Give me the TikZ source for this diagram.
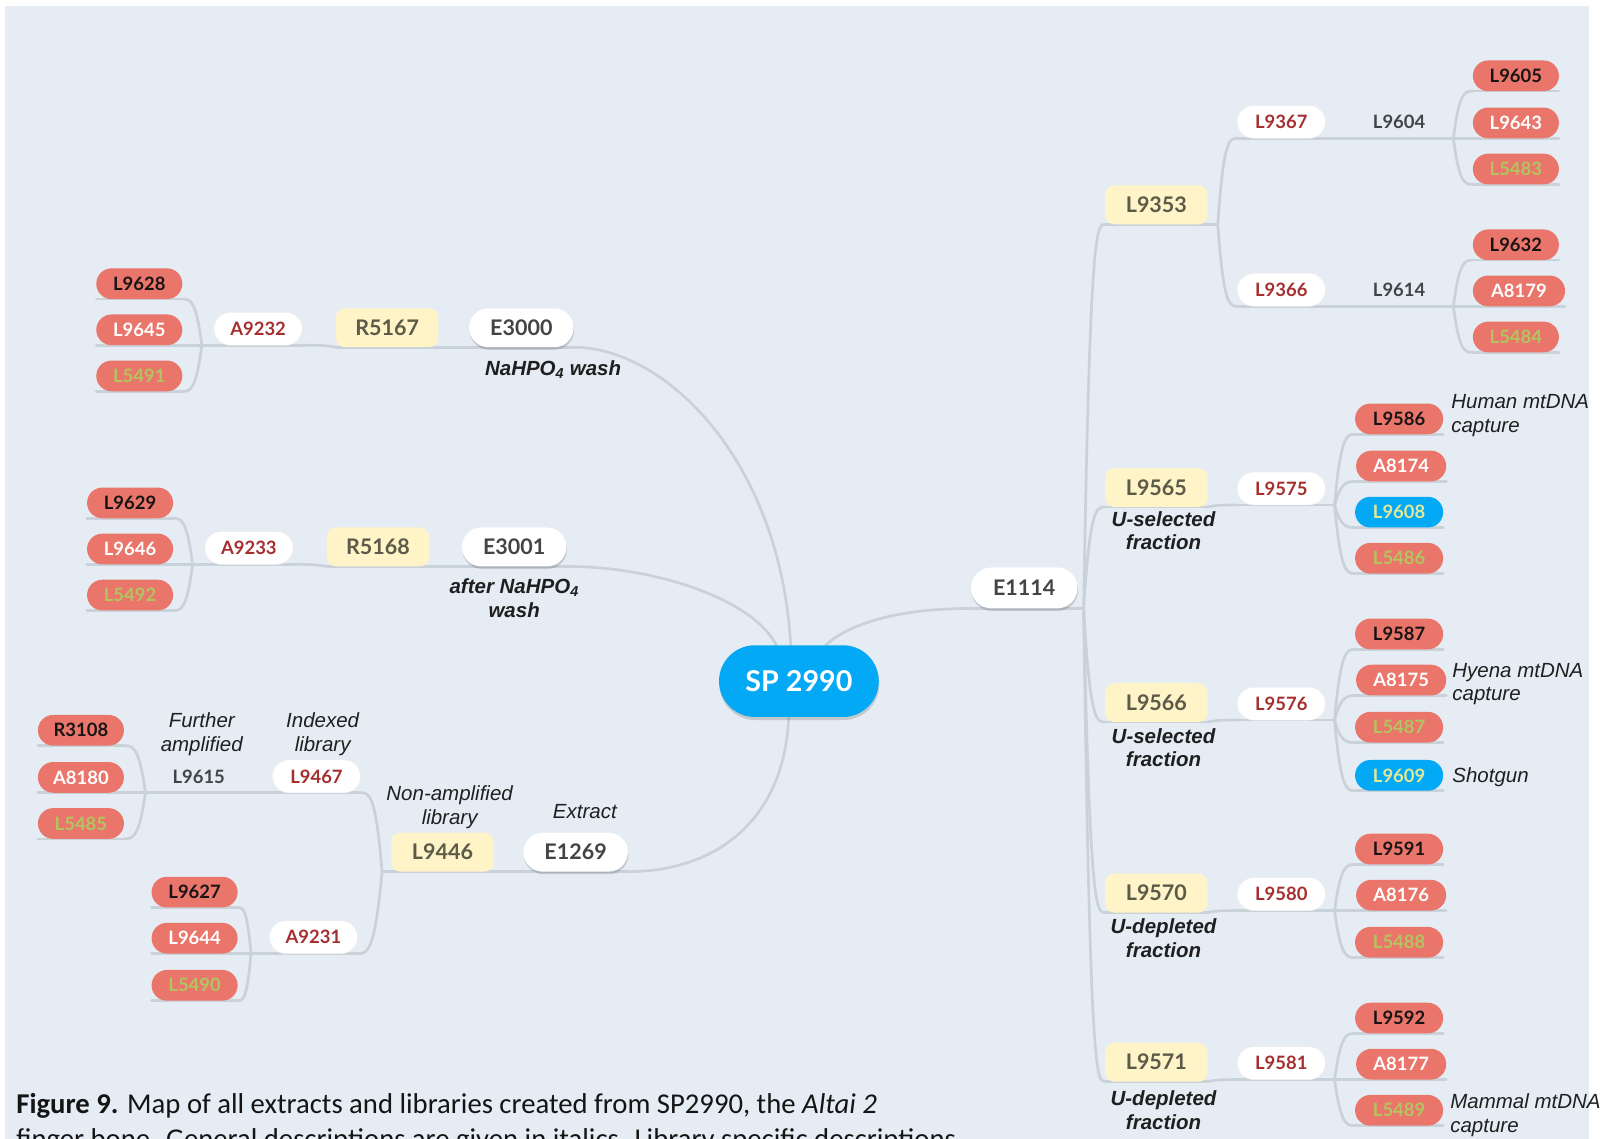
\documentclass[tikz,border=0pt]{standalone}
\usepackage{fontspec}
\usetikzlibrary{calc,shadows}
\newfontfamily\labfont{Lato}
\newfontfamily\descfont{Liberation Sans}
\newfontfamily\capfont{Carlito}

\definecolor{bgc}{RGB}{229,236,243}
\definecolor{linec}{RGB}{201,209,217}
\definecolor{salmon}{RGB}{233,117,107}
\definecolor{leafgreen}{RGB}{178,196,96}
\definecolor{leafblack}{RGB}{25,20,20}
\definecolor{skyblue}{RGB}{3,169,244}
\definecolor{paleyellow}{RGB}{226,232,150}
\definecolor{yfill}{RGB}{255,244,200}
\definecolor{ytext}{RGB}{92,90,72}
\definecolor{redtext}{RGB}{166,46,46}
\definecolor{darktext}{RGB}{66,68,70}

\pgfdeclarelayer{bg}
\pgfdeclarelayer{lines}
\pgfsetlayers{bg,lines,main}

\tikzset{
  every node/.style={inner sep=0pt, outer sep=0pt},
  lbl/.style={font=\labfont\bfseries\fontsize{18}{20}\selectfont},
  leaf/.style={lbl, fill=salmon, minimum width=84pt, minimum height=30pt, rounded corners=15pt},
  leafk/.style={leaf, text=leafblack},
  leafw/.style={leaf, text=white},
  leafg/.style={leaf, text=leafgreen},
  bleaf/.style={leaf, fill=skyblue, text=paleyellow},
  wsmall/.style={lbl, fill=white, draw=black!6, text=redtext, minimum width=86pt, minimum height=32pt, rounded corners=16pt},
  ybox/.style={font=\labfont\bfseries\fontsize{21}{24}\selectfont, fill=yfill, text=ytext, minimum width=100pt, minimum height=38pt, rounded corners=9pt},
  wbig/.style={font=\labfont\bfseries\fontsize{21}{24}\selectfont, fill=white, text=darktext, minimum width=102pt, minimum height=38pt, rounded corners=19pt,
    drop shadow={shadow xshift=0.5pt, shadow yshift=-2.5pt, opacity=0.22, fill=black!70}},
  spnode/.style={font=\labfont\bfseries\fontsize{28}{32}\selectfont, fill=skyblue, text=white, minimum width=156pt, minimum height=70pt, rounded corners=35pt,
    drop shadow={shadow xshift=0.5pt, shadow yshift=-3pt, opacity=0.22, fill=black!70}},
  midtxt/.style={lbl, text=darktext},
  desc/.style={font=\descfont\itshape\fontsize{20}{23}\selectfont, text=black!88, align=center},
  bdesc/.style={desc, font=\descfont\bfseries\itshape\fontsize{20}{23}\selectfont},
  ldesc/.style={desc, align=left, anchor=west},
  conn/.style={draw=linec, line width=2.6pt, line cap=round},
}

% smooth elbow from a branch point to the underline end of a child
\newcommand\cv[2]{\draw[conn] let \p1=(#1), \p2=(#2) in (\p1) .. controls ({\x1+0.3*(\x2-\x1)},\y2) and ({\x1+0.6*(\x2-\x1)},\y2) .. (\p2);}

\begin{document}
\begin{tikzpicture}[x=1pt,y=-1pt]
\useasboundingbox (0,0) rectangle (1568,1112);
\begin{pgfonlayer}{bg}
  \fill[white] (0,0) rectangle (1568,1112);
  \fill[bgc] (5,6) rectangle (1551,1112);
\end{pgfonlayer}

% sample
\node[spnode] (sp) at (780,665) {SP 2990};

% NaHPO4 wash branch
\node[wbig] (e3000) at (509,320) {E3000};
\node[ybox] (r5167) at (378,320) {R5167};
\node[wsmall] (a9232) at (252,321) {A9232};
\node[leafk] (l9628) at (136,277) {L9628};
\node[leafw] (l9645) at (136,322) {L9645};
\node[leafg] (l5491) at (136,367) {L5491};
\node[bdesc] (d3000) at (540,361) {NaHPO\textsubscript{4} wash};

% after NaHPO4 wash branch
\node[wbig] (e3001) at (502,534) {E3001};
\node[ybox] (r5168) at (369,534) {R5168};
\node[wsmall] (a9233) at (243,535) {A9233};
\node[leafk] (l9629) at (127,491) {L9629};
\node[leafw] (l9646) at (127,536) {L9646};
\node[leafg] (l5492) at (127,581) {L5492};
\node[bdesc] (d3001) at (502,584) {after NaHPO\textsubscript{4}\\wash};

% extract branch
\node[wbig] (e1269) at (562,832) {E1269};
\node[desc] (d1269) at (571,792) {Extract};
\node[ybox] (l9446) at (432,832) {L9446};
\node[desc] (d9446) at (439,788) {Non-amplified\\library};
\node[wsmall] (l9467) at (309,758) {L9467};
\node[desc] (d9467) at (315,717) {Indexed\\library};
\node[midtxt] (l9615) at (194,758) {L9615};
\node[desc] (d9615) at (197,717) {Further\\amplified};
\node[leafk] (r3108) at (79,713) {R3108};
\node[leafw] (a8180) at (79,759) {A8180};
\node[leafg] (l5485) at (79,804) {L5485};
\node[wsmall] (a9231) at (306,915) {A9231};
\node[leafk] (l9627) at (190,871) {L9627};
\node[leafw] (l9644) at (190,916) {L9644};
\node[leafg] (l5490) at (190,962) {L5490};

% E1114 branch
\node[wbig, minimum width=104pt, minimum height=40pt, rounded corners=20pt] (e1114) at (1000,574) {E1114};

\node[ybox] (l9353) at (1129,200) {L9353};
\node[wsmall] (l9367) at (1251,119) {L9367};
\node[midtxt] (l9604) at (1366,119) {L9604};
\node[leafk] (l9605) at (1480,74) {L9605};
\node[leafw] (l9643) at (1480,120) {L9643};
\node[leafg] (l5483) at (1480,165) {L5483};
\node[wsmall] (l9366) at (1251,283) {L9366};
\node[midtxt] (l9614) at (1366,283) {L9614};
\node[leafk] (l9632) at (1480,239) {L9632};
\node[leafw, minimum width=90pt] (a8179) at (1483,284) {A8179};
\node[leafg] (l5484) at (1480,329) {L5484};

\node[ybox] (l9565) at (1129,476) {L9565};
\node[bdesc] (d9565) at (1136,518) {U-selected\\fraction};
\node[wsmall] (l9575) at (1251,477) {L9575};
\node[leafk, minimum width=86pt] (l9586) at (1366,409) {L9586};
\node[leafw, minimum width=88pt] (a8174) at (1368,455) {A8174};
\node[bleaf, minimum width=86pt] (l9608) at (1366,500) {L9608};
\node[leafg, minimum width=86pt] (l5486) at (1366,545) {L5486};
\node[ldesc] (d9586) at (1417,406) {Human mtDNA\\capture};

\node[ybox] (l9566) at (1129,686) {L9566};
\node[bdesc] (d9566) at (1136,730) {U-selected\\fraction};
\node[wsmall] (l9576) at (1251,687) {L9576};
\node[leafk, minimum width=86pt] (l9587) at (1366,619) {L9587};
\node[leafw, minimum width=88pt] (a8175) at (1368,664) {A8175};
\node[leafg, minimum width=86pt] (l5487) at (1366,710) {L5487};
\node[bleaf, minimum width=86pt] (l9609) at (1366,757) {L9609};
\node[ldesc] (d8175) at (1418,668) {Hyena mtDNA\\capture};
\node[ldesc] (d9609) at (1418,759) {Shotgun};

\node[ybox] (l9570) at (1129,872) {L9570};
\node[bdesc] (d9570) at (1136,916) {U-depleted\\fraction};
\node[wsmall] (l9580) at (1251,873) {L9580};
\node[leafk, minimum width=86pt] (l9591) at (1366,829) {L9591};
\node[leafw, minimum width=88pt] (a8176) at (1368,874) {A8176};
\node[leafg, minimum width=86pt] (l5488) at (1366,920) {L5488};

\node[ybox] (l9571) at (1129,1037) {L9571};
\node[bdesc] (d9571) at (1136,1084) {U-depleted\\fraction};
\node[wsmall] (l9581) at (1251,1038) {L9581};
\node[leafk, minimum width=86pt] (l9592) at (1366,994) {L9592};
\node[leafw, minimum width=88pt] (a8177) at (1368,1039) {A8177};
\node[leafg, minimum width=86pt] (l5489) at (1366,1084) {L5489};
\node[ldesc] (d5489) at (1416,1089) {Mammal mtDNA\\capture};

% caption
\node[anchor=base west, font=\capfont\fontsize{28}{34}\selectfont, text=black!92] (cap1) at (16,1087)
  {\textbf{Figure 9.} Map of all extracts and libraries created from SP2990, the \textit{Altai 2}};
\node[anchor=base west, font=\capfont\fontsize{28}{34}\selectfont, text=black!92] (cap2) at (16,1121)
  {finger bone. General descriptions are given in italics. Library specific descriptions};

\begin{pgfonlayer}{lines}
  % underlines beneath every box
  \foreach \n in {e3000,r5167,a9232,l9628,l9645,l5491,
                  e3001,r5168,a9233,l9629,l9646,l5492,
                  e1269,l9446,l9467,r3108,a8180,l5485,a9231,l9627,l9644,l5490,
                  e1114,l9353,l9367,l9605,l9643,l5483,l9366,l9632,a8179,l5484,
                  l9565,l9575,l9586,a8174,l9608,l5486,
                  l9566,l9576,l9587,a8175,l5487,l9609,
                  l9570,l9580,l9591,a8176,l5488,
                  l9571,l9581,l9592,a8177,l5489}
    {\draw[conn] (\n.south west) -- (\n.south east);}

  % NaHPO4 wash branch
  \draw[conn] ($(sp.north)+(-8,0)$) .. controls (762,450) and (650,339) .. (e3000.south east);
  \cv{e3000.south west}{r5167.south east}
  \cv{r5167.south west}{a9232.south east}
  \coordinate (k9232) at ($(a9232.south west)+(-12,0)$);
  \draw[conn] (a9232.south west) -- (k9232);
  \foreach \c in {l9628,l9645,l5491} {\cv{k9232}{\c.south east}}

  % after NaHPO4 wash branch
  \draw[conn] ($(sp.north)+(-22,0)$) .. controls (735,585) and (640,553) .. (e3001.south east);
  \cv{e3001.south west}{r5168.south east}
  \cv{r5168.south west}{a9233.south east}
  \coordinate (k9233) at ($(a9233.south west)+(-12,0)$);
  \draw[conn] (a9233.south west) -- (k9233);
  \foreach \c in {l9629,l9646,l5492} {\cv{k9233}{\c.south east}}

  % extract branch
  \draw[conn] ($(sp.south)+(-10,0)$) .. controls (766,800) and (700,851) .. (e1269.south east);
  \cv{e1269.south west}{l9446.south east}
  \coordinate (k9446) at ($(l9446.south west)+(-9,0)$);
  \draw[conn] (l9446.south west) -- (k9446);
  \cv{k9446}{l9467.south east}
  \cv{k9446}{a9231.south east}
  \coordinate (k9615) at ($(l9467.south west)+(-124,0)$);
  \draw[conn] (l9467.south west) -- (k9615);
  \foreach \c in {r3108,a8180,l5485} {\cv{k9615}{\c.south east}}
  \coordinate (k9231) at ($(a9231.south west)+(-18,0)$);
  \draw[conn] (a9231.south west) -- (k9231);
  \foreach \c in {l9627,l9644,l5490} {\cv{k9231}{\c.south east}}

  % E1114 branch
  \draw[conn] ($(sp.north)+(26,0)$) .. controls (832,606) and (885,594) .. (e1114.south west);
  \coordinate (k1114) at ($(e1114.south east)+(6,0)$);
  \draw[conn] (e1114.south east) -- (k1114);
  \foreach \c in {l9353,l9565,l9566,l9570,l9571} {\cv{k1114}{\c.south west}}

  \coordinate (k9353) at ($(l9353.south east)+(10,0)$);
  \draw[conn] (l9353.south east) -- (k9353);
  \cv{k9353}{l9367.south west}
  \cv{k9353}{l9366.south west}
  \coordinate (k9604) at ($(l9367.south east)+(125,0)$);
  \draw[conn] (l9367.south east) -- (k9604);
  \foreach \c in {l9605,l9643,l5483} {\cv{k9604}{\c.south west}}
  \coordinate (k9614) at ($(l9366.south east)+(125,0)$);
  \draw[conn] (l9366.south east) -- (k9614);
  \foreach \c in {l9632,a8179,l5484} {\cv{k9614}{\c.south west}}

  \cv{l9565.south east}{l9575.south west}
  \coordinate (k9575) at ($(l9575.south east)+(9,0)$);
  \draw[conn] (l9575.south east) -- (k9575);
  \foreach \c in {l9586,a8174,l9608,l5486} {\cv{k9575}{\c.south west}}

  \cv{l9566.south east}{l9576.south west}
  \coordinate (k9576) at ($(l9576.south east)+(9,0)$);
  \draw[conn] (l9576.south east) -- (k9576);
  \foreach \c in {l9587,a8175,l5487,l9609} {\cv{k9576}{\c.south west}}

  \cv{l9570.south east}{l9580.south west}
  \coordinate (k9580) at ($(l9580.south east)+(9,0)$);
  \draw[conn] (l9580.south east) -- (k9580);
  \foreach \c in {l9591,a8176,l5488} {\cv{k9580}{\c.south west}}

  \cv{l9571.south east}{l9581.south west}
  \coordinate (k9581) at ($(l9581.south east)+(9,0)$);
  \draw[conn] (l9581.south east) -- (k9581);
  \foreach \c in {l9592,a8177,l5489} {\cv{k9581}{\c.south west}}
\end{pgfonlayer}
\end{tikzpicture}
\end{document}
